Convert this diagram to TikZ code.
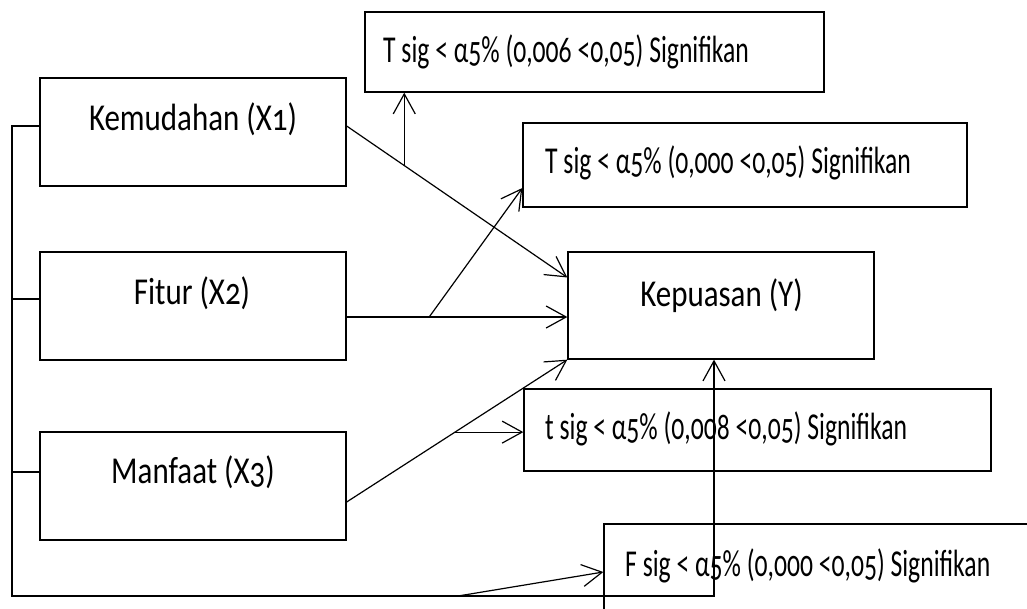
\documentclass[tikz,border=0pt]{standalone}
\usepackage{fontspec}
\setmainfont{Carlito}[Numbers=OldStyle,FakeStretch=0.815]
\newfontfamily\sigfont{Carlito}[Numbers=OldStyle,FakeStretch=0.675]
\usetikzlibrary{arrows.meta,calc}
\tikzset{
  box/.style={draw, line width=1.3pt, inner sep=0pt, fill=none},
  txt/.style={inner sep=0pt, font=\fontsize{38}{40}\selectfont},
  sigtxt/.style={inner sep=0pt, font=\sigfont\fontsize{38}{40}\selectfont},
  conn/.style={line width=1.2pt},
  arr/.style={conn, -{Straight Barb[length=20pt,width=22pt,line width=1.2pt]}},
}
\begin{document}
\begin{tikzpicture}[x=1pt,y=-1pt]
\useasboundingbox (0,0) rectangle (1027,608);
\clip (0,0) rectangle (1027,608);
% boxes
\node[box, minimum width=306pt, minimum height=108pt] (x1) at (193,132) {};
\node[box, minimum width=306pt, minimum height=108pt] (x2) at (193,306) {};
\node[box, minimum width=306pt, minimum height=108pt] (x3) at (193,486) {};
\node[box, minimum width=306pt, minimum height=107pt] (y) at (721,305.5) {};
\node[box, minimum width=459pt, minimum height=80pt] (s1) at (594.5,52) {};
\node[box, minimum width=444pt, minimum height=84pt] (s2) at (745,165) {};
\node[box, minimum width=467pt, minimum height=82pt] (s3) at (757.5,430) {};
\node[box, minimum width=456pt, minimum height=104pt] (sf) at (832,576) {};
% texts
\node[txt, anchor=base] (x1t) at (193,130) {Kemudahan (X1)};
\node[txt, anchor=base] (x2t) at (192,304) {Fitur (X2)};
\node[txt, anchor=base] (x3t) at (193,483) {Manfaat (X3)};
\node[txt, anchor=base] (yt) at (721.5,306) {Kepuasan (Y)};
\node[sigtxt, anchor=base west] (s1t) at (383,62) {T sig < α5\% (0,006 <0,05) Signifikan};
\node[sigtxt, anchor=base west] (s2t) at (545,173) {T sig < α5\% (0,000 <0,05) Signifikan};
\node[sigtxt, anchor=base west] (s3t) at (545,439) {t sig < α5\% (0,008 <0,05) Signifikan};
\node[sigtxt, anchor=base west] (sft) at (625,576) {F sig < α5\% (0,000 <0,05) Signifikan};
% bus coordinates
\coordinate (b1) at (12,126);
\coordinate (b2) at (12,299);
\coordinate (b3) at (12,472);
\coordinate (b4) at (12,596);
\coordinate (c) at (714,596);
\coordinate (p4) at (458,596);
% bus
\draw[arr] (b1 -| x1.west) -- (b1) -- (b4) -- (c) -- (c |- y.south);
\draw[conn] (b2) -- (b2 -| x2.west);
\draw[conn] (b3) -- (b3 -| x3.west);
\draw[arr] (p4) -- ([yshift=4pt]sf.west);
% X1 -> Y
\coordinate (a1) at ([yshift=6pt]x1.east);
\coordinate (e1) at ([yshift=28pt]y.west);
\draw[arr] (a1) -- (e1);
\coordinate (p1) at ($(a1)!0.261!(e1)$);
\draw[arr] (p1) -- (p1 |- s1.south);
% X2 -> Y
\coordinate (a2) at ([yshift=-11pt]x2.east);
\draw[arr] (a2) -- (a2 -| y.west);
\coordinate (p2) at ($(a2)!0.374!(a2 -| y.west)$);
\draw[arr] (p2) -- ([yshift=-23pt]s2.west);
% X3 -> Y
\coordinate (a3) at ([yshift=-16pt]x3.east);
\draw[arr] (a3) -- (y.south west);
\coordinate (p3) at ($(a3)!0.491!(y.south west)$);
\draw[arr] (p3) -- (p3 -| s3.west);
\end{tikzpicture}
\end{document}
